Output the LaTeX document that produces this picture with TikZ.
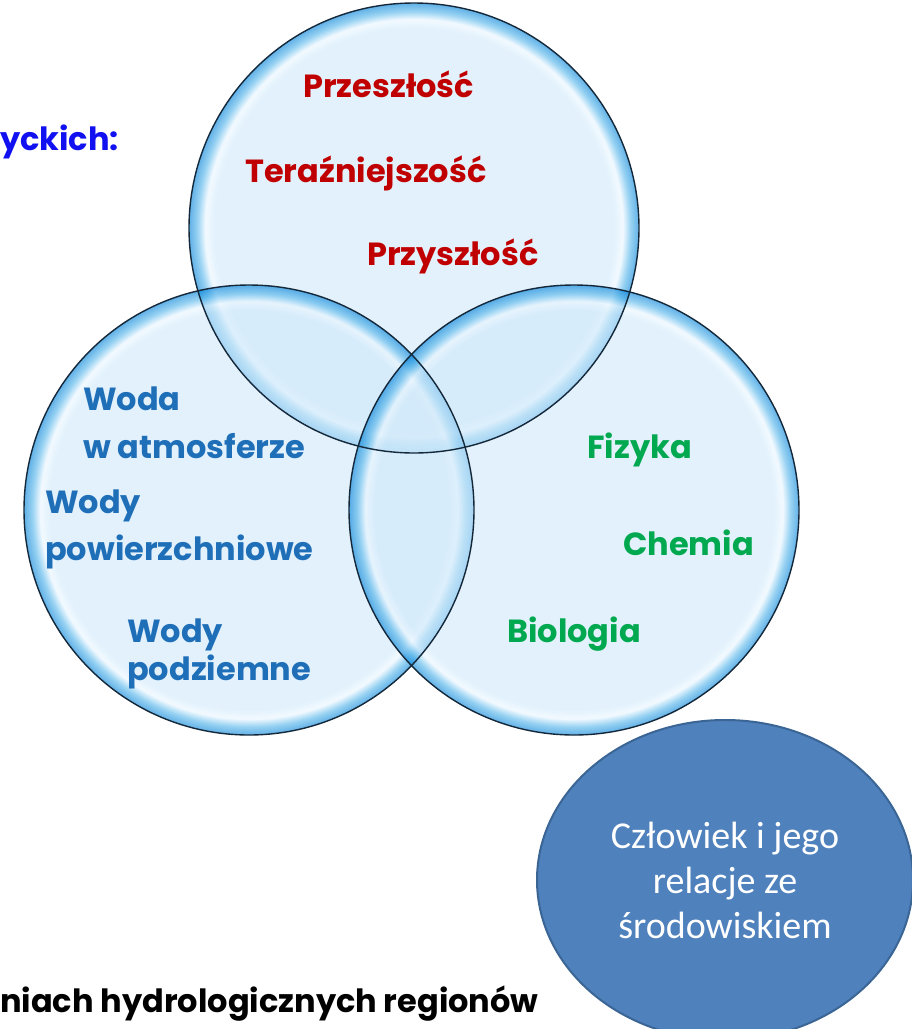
\documentclass[tikz,border=0pt]{standalone}
\usepackage{fontspec}
\setmainfont{Carlito}
\newfontfamily\geofont{Poppins}
\usetikzlibrary{shapes.geometric}
\definecolor{bubin}{HTML}{D0E9FA}
\definecolor{bubhi}{HTML}{EAF6FF}
\definecolor{bubmid}{HTML}{55B5EA}
\definecolor{bubrim}{HTML}{0080D8}
\definecolor{bubline}{HTML}{14283A}
\definecolor{timered}{HTML}{C00000}
\definecolor{waterblue}{HTML}{1F6FB8}
\definecolor{sciencegreen}{HTML}{00A84F}
\definecolor{titleblue}{HTML}{1010F0}
\definecolor{humanfill}{HTML}{4F81BD}
\definecolor{humanline}{HTML}{3A6595}
\pgfdeclareradialshading{bubble}{\pgfpoint{0bp}{0bp}}{color(0bp)=(bubin); color(22.2bp)=(bubin); color(23.2bp)=(bubhi); color(24.1bp)=(bubmid); color(25bp)=(bubrim); color(50bp)=(bubrim)}

\begin{document}
\begin{tikzpicture}[x=1pt,y=-1pt,
    bubtxt/.style={font=\geofont\bfseries\fontsize{32}{38}\selectfont,inner sep=0pt,anchor=base west},
    timetxt/.style={bubtxt,text=timered},
    watertxt/.style={bubtxt,text=waterblue},
    sciencetxt/.style={bubtxt,text=sciencegreen}]
    \useasboundingbox (0,0) rectangle (912,1029);
    \clip (0,0) rectangle (912,1029);
    \foreach \cx/\cy in {414/228,249/510,574/510}
      \shade[shading=bubble,opacity=0.62] (\cx,\cy) circle (225);
    \foreach \cx/\cy in {414/228,249/510,574/510}
      \draw[bubline,line width=1.4pt] (\cx,\cy) circle (225);
    \node[timetxt] (przeszlosc) at (303,97) {Przeszłość};
    \node[timetxt] (terazniejszosc) at (245,182) {Teraźniejszość};
    \node[timetxt] (przyszlosc) at (367,265) {Przyszłość};
    \node[watertxt] (woda) at (83,410) {Woda};
    \node[watertxt] (atmosfera) at (83,458) {w atmosferze};
    \node[watertxt] (wody) at (45,513) {Wody};
    \node[watertxt] (powierzchnia) at (45,560) {powierzchniowe};
    \node[watertxt] (wodypodz) at (127,642) {Wody};
    \node[watertxt] (podziemne) at (127,680) {podziemne};
    \node[sciencetxt] (fizyka) at (587,458) {Fizyka};
    \node[sciencetxt] (chemia) at (623,555) {Chemia};
    \node[sciencetxt] (biologia) at (507,642) {Biologia};
    \node[ellipse,fill=humanfill,draw=humanline,line width=2pt,minimum width=376pt,minimum height=320pt,
      text=white,align=center,font=\fontsize{38}{45}\selectfont] (czlowiek) at (725,880)
      {Człowiek i jego\\relacje ze\\środowiskiem};
    \node[bubtxt,text=titleblue] (yckich) at (0,150) {yckich:};
    \node[bubtxt,text=black] (regiony) at (0,1012) {niach hydrologicznych regionów};
  \end{tikzpicture}
\end{document}
